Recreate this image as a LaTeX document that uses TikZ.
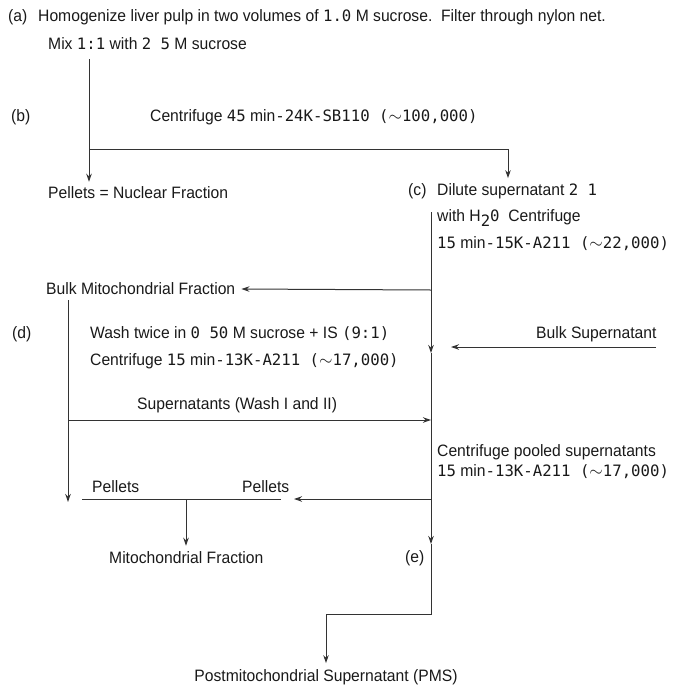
\documentclass[tikz,border=0pt]{standalone}
\usepackage{fontspec}
\setmainfont{Liberation Sans}[FakeStretch=0.95]
\newfontfamily\mono{DejaVu Sans Mono}[Scale=0.95]
\usetikzlibrary{arrows.meta}
\tikzset{
  txt/.style={anchor=west, inner sep=0pt, font=\fontsize{16.5}{18}\selectfont, text=black!90},
  ln/.style={line width=1pt, draw=black!80},
  arr/.style={ln, -{Stealth[length=8pt,width=5.5pt]}}
}
\newcommand{\m}[1]{{\mono #1}}
\begin{document}
\begin{tikzpicture}[x=1pt,y=-1pt]
\useasboundingbox (0,0) rectangle (673,686);
% texts
\node[txt] (la) at (8,17) {(a)};
\node[txt] (ta) at (38,17) {Homogenize liver pulp in two volumes of \m{1.0} M sucrose.\ \ Filter through nylon net.};
\node[txt] (mix) at (48,44) {Mix \m{1:1} with \m{2 5} M sucrose};
\node[txt] (lb) at (11,117) {(b)};
\node[txt] (tb) at (150,117) {Centrifuge \m{45} min\m{-24K-SB110 (}$\sim$\m{100,000)}};
\node[txt] (pel) at (48,193) {Pellets = Nuclear Fraction};
\node[txt] (lc) at (408,191) {(c)};
\node[txt] (dil) at (437,191) {Dilute supernatant \m{2 1}};
\node[txt] (wh) at (437,218) {with H\raisebox{-5pt}{\m{2}}\m{0}\ \ Centrifuge};
\node[txt] (c15) at (437,244) {\m{15} min\m{-15K-A211 (}$\sim$\m{22,000)}};
\node[txt] (bm) at (46,289) {Bulk Mitochondrial Fraction};
\node[txt] (ld) at (12,334) {(d)};
\node[txt] (wash) at (90,334) {Wash twice in \m{0 50} M sucrose + IS \m{(9:1)}};
\node[txt] (cent2) at (90,361) {Centrifuge \m{15} min\m{-13K-A211 (}$\sim$\m{17,000)}};
\node[txt] (bs) at (536,334) {Bulk Supernatant};
\node[txt] (sw) at (137,405) {Supernatants (Wash I and II)};
\node[txt] (cp) at (437,452) {Centrifuge pooled supernatants};
\node[txt] (c13) at (437,472) {\m{15} min\m{-13K-A211 (}$\sim$\m{17,000)}};
\node[txt] (p1) at (92,487) {Pellets};
\node[txt] (p2) at (242,487) {Pellets};
\node[txt] (mf) at (109,558) {Mitochondrial Fraction};
\node[txt] (le) at (405,558) {(e)};
\node[txt, anchor=center] (pms) at (326,677) {Postmitochondrial Supernatant (PMS)};
% coordinates
\coordinate (s1) at (89,59);
\coordinate (j1) at (89,149);
\coordinate (j2) at (508,149);
\coordinate (v0) at (431,212);
\coordinate (vb) at (431,290);
\coordinate (va1) at (431,353);
\coordinate (vs) at (431,420);
\coordinate (vp) at (431,499);
\coordinate (va2) at (431,544);
\coordinate (ve) at (431,614);
\coordinate (pe) at (326,614);
\coordinate (l2) at (68,300);
\coordinate (l2s) at (68,420);
\coordinate (l2e) at (68,502);
\coordinate (bsr) at (656,347);
\coordinate (bst) at (451,347);
\coordinate (pl) at (82,499);
\coordinate (pr) at (281,499);
\coordinate (pj) at (186,499);
\coordinate (pt) at (294,499);
% connectors
\draw[arr] (s1) -- ([yshift=5pt]j1 |- pel.north);
\draw[arr] (j1) -- (j2) -- ([yshift=5pt]j2 |- dil.north);
\draw[arr] (v0) -- (va1);
\draw[arr] (va1) -- (va2);
\draw[arr] (va2) -- (ve) -- (pe) -- ([yshift=6pt]pms.north -| pe);
\draw[arr] (vb) -- ([xshift=6pt]bm.east);
\draw[arr] (l2) -- (l2e);
\draw[arr] (bsr) -- (bst);
\draw[arr] (l2s) -- (vs);
\draw[ln] (pl) -- (pr);
\draw[arr] (vp) -- (pt);
\draw[arr] (pj) -- ([yshift=6pt]mf.north -| pj);
\end{tikzpicture}
\end{document}
